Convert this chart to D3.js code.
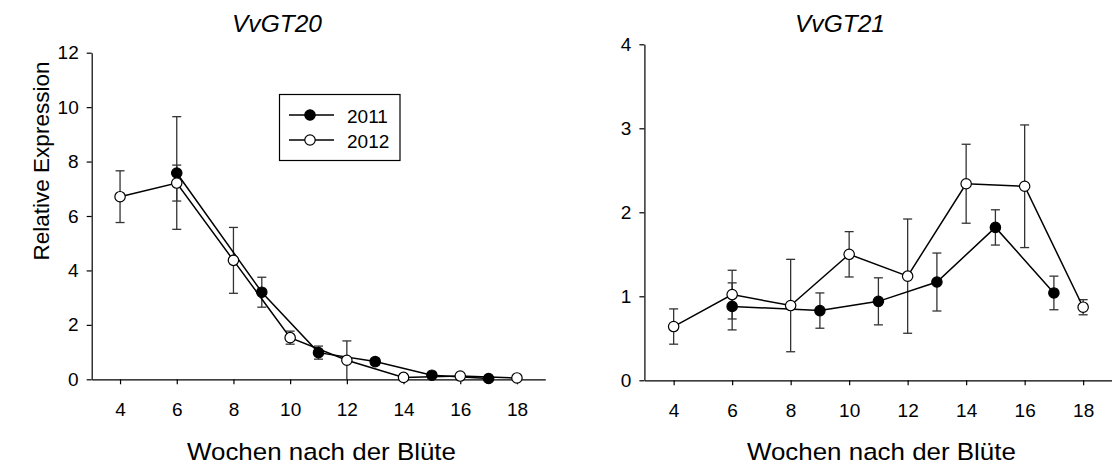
<!DOCTYPE html>
<html>
<head>
<meta charset="utf-8">
<script src="https://cdn.jsdelivr.net/npm/d3@7"></script>
<style>
  body { margin: 0; background: #fff; }
  svg { display: block; font-family: "Liberation Sans", Arial, sans-serif; }
</style>
</head>
<body>
<div class="wrapper"></div>
<script>
// data
var weeks2011 = [6, 9, 11, 13, 15, 17];
var weeks2012 = [4, 6, 8, 10, 12, 14, 16, 18];

var gt20_2011     = [7.58, 3.20, 0.98, 0.65, 0.15, 0.03];
var gt20_2011_err = [2.07, 0.55, 0.24, 0.12, 0.05, 0.03];
var gt20_2012     = [6.71, 7.21, 4.37, 1.53, 0.70, 0.07, 0.12, 0.05];
var gt20_2012_err = [0.95, 0.66, 1.21, 0.24, 0.71, 0.03, 0.05, 0.03];

var gt21_2011     = [0.88, 0.83, 0.94, 1.17, 1.82, 1.04];
var gt21_2011_err = [0.28, 0.21, 0.28, 0.345, 0.21, 0.20];
var gt21_2012     = [0.64, 1.02, 0.89, 1.50, 1.24, 2.34, 2.31, 0.87];
var gt21_2012_err = [0.21, 0.29, 0.55, 0.27, 0.68, 0.47, 0.73, 0.09];

var xTicks = [4, 6, 8, 10, 12, 14, 16, 18];
var yTicksLeft = [0, 2, 4, 6, 8, 10, 12];
var yTicksRight = [0, 1, 2, 3, 4];
var years = ['2011', '2012'];

var width = 1112, height = 465;

var svg = d3.select('.wrapper').append('svg')
            .attr('width', width)
            .attr('height', height);

var pack = (weeks, vals, errs) => weeks.map((w, i) => ({w: w, v: vals[i], e: errs[i]}));

var panels = [
  {title: 'VvGT20', titleX: 277, xr: [91.7, 545.3], yr: [379.3, 52.7], ymax: 12, yTicks: yTicksLeft,
   s2011: pack(weeks2011, gt20_2011, gt20_2011_err), s2012: pack(weeks2012, gt20_2012, gt20_2012_err)},
  {title: 'VvGT21', titleX: 840, xr: [644.4, 1112.4], yr: [380.3, 44.3], ymax: 4, yTicks: yTicksRight,
   s2011: pack(weeks2011, gt21_2011, gt21_2011_err), s2012: pack(weeks2012, gt21_2012, gt21_2012_err)}
];

panels.forEach(p => {
  var x = d3.scaleLinear().domain([3, 19]).range(p.xr);
  var y = d3.scaleLinear().domain([0, p.ymax]).range(p.yr);
  var g = svg.append('g');

  // axes
  var xAxis = g.append('g')
     .attr('transform', 'translate(0,' + p.yr[0] + ')')
     .call(d3.axisBottom(x).tickValues(xTicks).tickFormat(d3.format('d'))
             .tickSize(5).tickSizeOuter(0).tickPadding(18));
  var yAxis = g.append('g')
     .attr('transform', 'translate(' + p.xr[0] + ',0)')
     .call(d3.axisLeft(y).tickValues(p.yTicks).tickFormat(d3.format('d'))
             .tickSize(5).tickSizeOuter(0).tickPadding(8));
  [xAxis, yAxis].forEach(a => {
    a.attr('font-size', 19).attr('font-family', '"Liberation Sans", Arial, sans-serif');
    a.selectAll('path, line').attr('stroke', '#000').attr('stroke-width', 1.2);
    a.selectAll('text').attr('fill', '#000');
  });

  // titles
  g.append('text')
   .attr('x', p.titleX).attr('y', 31.5)
   .attr('text-anchor', 'middle')
   .attr('font-size', 23).attr('font-style', 'italic')
   .attr('textLength', 90).attr('lengthAdjust', 'spacingAndGlyphs')
   .text(p.title);

  g.append('text')
   .attr('x', (p.xr[0] + p.xr[1]) / 2 + 3).attr('y', 460)
   .attr('text-anchor', 'middle')
   .attr('font-size', 24.5)
   .attr('textLength', 269).attr('lengthAdjust', 'spacingAndGlyphs')
   .text('Wochen nach der Blüte');

  var line = d3.line().x(d => x(d.w)).y(d => y(d.v));

  [p.s2011, p.s2012].forEach((s, k) => {
    var eb = g.append('g').attr('stroke', '#333').attr('stroke-width', 1.3);
    s.forEach(d => {
      var top = y(d.v + d.e), bot = y(Math.max(0, d.v - d.e));
      eb.append('line').attr('x1', x(d.w)).attr('x2', x(d.w)).attr('y1', top).attr('y2', bot);
      eb.append('line').attr('x1', x(d.w) - 4.5).attr('x2', x(d.w) + 4.5).attr('y1', top).attr('y2', top);
      if (d.v - d.e > 0)
        eb.append('line').attr('x1', x(d.w) - 4.5).attr('x2', x(d.w) + 4.5).attr('y1', bot).attr('y2', bot);
    });
  });

  [p.s2011, p.s2012].forEach((s, k) => {
    g.append('path').datum(s)
     .attr('d', line)
     .attr('fill', 'none').attr('stroke', '#000').attr('stroke-width', 1.5);
    g.selectAll('.m' + k).data(s).enter().append('circle')
     .attr('cx', d => x(d.w)).attr('cy', d => y(d.v)).attr('r', 5.2)
     .attr('fill', k === 0 ? '#000' : '#fff')
     .attr('stroke', '#000').attr('stroke-width', 1.2);
  });
});

// y title
svg.append('text')
   .attr('transform', 'translate(49,161) rotate(-90)')
   .attr('text-anchor', 'middle')
   .attr('font-size', 22.5)
   .text('Relative Expression');

// legend
var lg = svg.append('g');
lg.append('rect').attr('x', 279.5).attr('y', 94.5).attr('width', 120.5).attr('height', 66)
  .attr('fill', '#fff').attr('stroke', '#000').attr('stroke-width', 1.2);
years.forEach((yr, i) => {
  var yy = 115 + i * 25;
  lg.append('line').attr('x1', 289).attr('x2', 334).attr('y1', yy).attr('y2', yy)
    .attr('stroke', '#000').attr('stroke-width', 1.5);
  lg.append('circle').attr('cx', 310).attr('cy', yy).attr('r', 5.2)
    .attr('fill', i === 0 ? '#000' : '#fff').attr('stroke', '#000').attr('stroke-width', 1.2);
  lg.append('text').attr('x', 347).attr('y', yy + 7.5).attr('font-size', 19).text(yr);
});
</script>
</body>
</html>
